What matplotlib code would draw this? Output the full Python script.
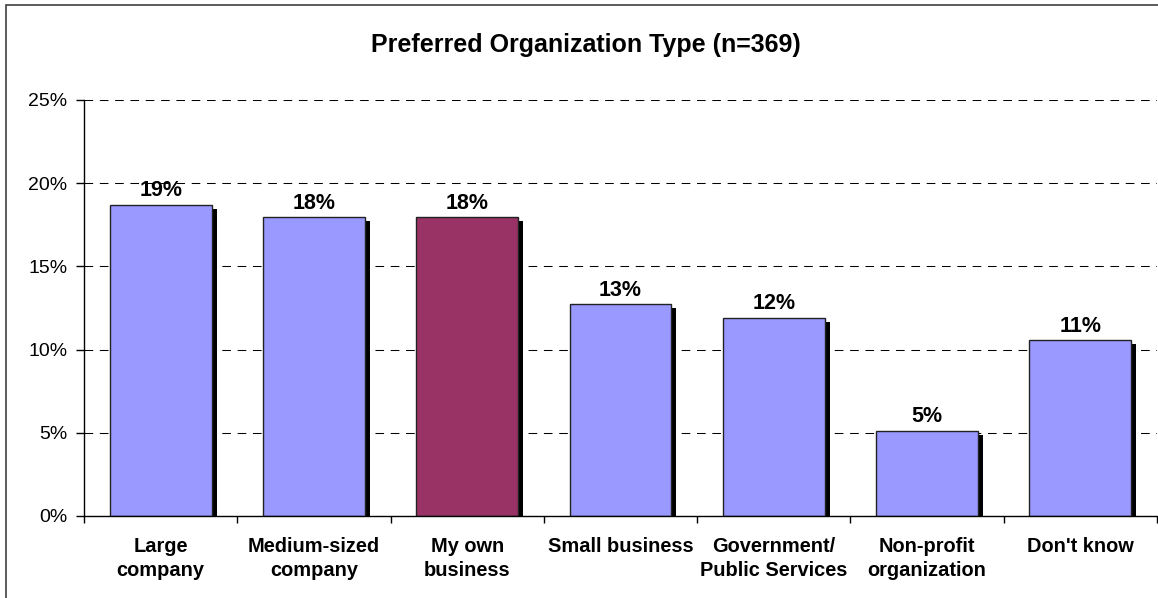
import matplotlib

matplotlib.use("agg")
import matplotlib.pyplot as plt
import matplotlib.transforms as mtransforms
from matplotlib.patches import Rectangle
from matplotlib.ticker import FuncFormatter

# Chart data
categories = [
    "Large\ncompany",
    "Medium-sized\ncompany",
    "My own\nbusiness",
    "Small business",
    "Government/\nPublic Services",
    "Non-profit\norganization",
    "Don't know",
]
shares = [18.7, 17.95, 17.95, 12.72, 11.92, 5.13, 10.56]
highlight = "My own\nbusiness"
title = "Preferred Organization Type (n=369)"
y_ticks = [0, 5, 10, 15, 20, 25]

plt.rcParams["font.family"] = ["Liberation Sans", "DejaVu Sans"]

W, H, DPI = 1158, 598, 100
fig = plt.figure(figsize=(W / DPI, H / DPI), dpi=DPI)
fig.patch.set_facecolor("white")

# outer chart frame (right/bottom edges fall off the picture)
fig.patches.append(
    Rectangle((6 / W, -0.1), 1.2, 1 - 5 / H + 0.1, transform=fig.transFigure,
              fill=False, edgecolor="#404040", linewidth=1.2)
)

ax = fig.add_axes([84 / W, 1 - 516 / H, (1157 - 84) / W, (516 - 100) / H])

x = list(range(len(categories)))
colors = ["#993366" if c == highlight else "#9999FF" for c in categories]

# drop shadow: same bars, shifted a few pixels right/down
shadow_tr = mtransforms.offset_copy(ax.transData, fig=fig, x=5, y=-4, units="dots")
ax.bar(x, shares, width=0.665, color="black", linewidth=0, transform=shadow_tr, zorder=2)
bars = ax.bar(x, shares, width=0.665, color=colors, edgecolor="#222222",
              linewidth=1.0, zorder=3)

for xi, v in zip(x, shares):
    ax.annotate(f"{round(v)}%", (xi, v), xytext=(0, 6), textcoords="offset points",
                ha="center", va="baseline", fontsize=15.5, fontweight="bold", zorder=4)

ax.set_xlim(-0.5, len(categories) - 0.5)
ax.set_ylim(0, 25)
ax.set_yticks(y_ticks)
ax.yaxis.set_major_formatter(FuncFormatter(lambda v, _: f"{v:.0f}%"))
ax.tick_params(axis="y", direction="out", length=6, width=1, pad=6, labelsize=14)

ax.set_xticks(x)
ax.set_xticklabels(categories, fontsize=14.4, fontweight="bold", linespacing=1.35)
ax.tick_params(axis="x", which="major", length=0, pad=15)
ax.set_xticks([i - 0.5 for i in range(len(categories) + 1)], minor=True)
ax.tick_params(axis="x", which="minor", direction="out", length=5, width=1)

ax.yaxis.grid(True, color="black", linewidth=0.75, linestyle=(0, (8.3, 6.4)), zorder=0)
ax.set_axisbelow(True)

for side in ["top", "right"]:
    ax.spines[side].set_visible(False)
for side in ["left", "bottom"]:
    ax.spines[side].set_linewidth(1.0)
    ax.spines[side].set_zorder(5)

fig.text(586 / W, 1 - 45 / H, title, ha="center", va="center",
         fontsize=18, fontweight="bold")

fig.savefig("out.png", dpi=DPI)
plt.close(fig)
